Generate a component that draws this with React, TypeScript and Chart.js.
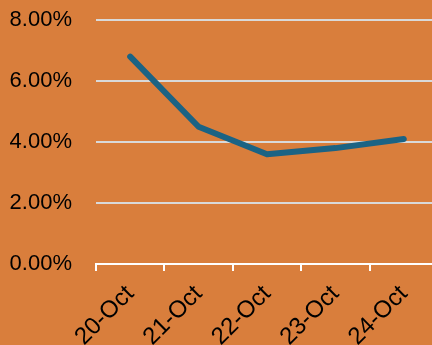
import React, { useEffect, useRef } from "react";
import { Chart, registerables } from "chart.js";

Chart.register(...registerables);

const categories = ["20-Oct", "21-Oct", "22-Oct", "23-Oct", "24-Oct"];
const seriesValues = [6.8, 4.5, 3.6, 3.8, 4.1];
const yTickValues = [0, 2, 4, 6, 8];

const BG = "#D97E3C";

export default function App() {
  const ref = useRef<HTMLCanvasElement | null>(null);

  useEffect(() => {
    document.body.style.margin = "0";
    document.body.style.overflow = "hidden";
    document.body.style.background = BG;
    const canvas = ref.current!;
    const chart = new Chart(canvas, {
      type: "line",
      data: {
        labels: categories,
        datasets: [
          {
            data: seriesValues,
            borderColor: "#1B6384",
            borderWidth: 6,
            pointRadius: 0,
            borderCapStyle: "round",
            borderJoinStyle: "round",
            tension: 0,
            fill: false,
          },
        ],
      },
      options: {
        animation: false,
        responsive: false,
        maintainAspectRatio: false,
        layout: { padding: { top: 20, right: 2, left: 0, bottom: 0 } },
        plugins: { legend: { display: false }, tooltip: { enabled: false } },
        scales: {
          x: {
            offset: true,
            grid: {
              offset: true,
              drawOnChartArea: false,
              drawTicks: true,
              tickLength: 7,
              color: "#FFFFFF",
              lineWidth: 2,
            },
            border: { display: true, color: "#FFFFFF", width: 2 },
            ticks: {
              autoSkip: false,
              maxRotation: 45,
              minRotation: 45,
              color: "#000000",
              padding: 9,
              font: { family: "'Liberation Sans', Arial, sans-serif", size: 24 },
            },
            afterFit: (s: any) => {
              s.height = 81;
              s.paddingLeft = 0;
              s.paddingRight = 0;
              s.paddingTop = 0;
              s.paddingBottom = 0;
            },
          },
          y: {
            min: 0,
            max: 8,
            afterBuildTicks: (s: any) => {
              s.ticks = yTickValues.map((v) => ({ value: v }));
            },
            grid: {
              color: "#D9D9D9",
              lineWidth: 2,
              drawTicks: false,
            },
            border: { display: false },
            ticks: {
              color: "#000000",
              padding: 24,
              font: { family: "'Liberation Sans', Arial, sans-serif", size: 22 },
              callback: (v: any) => Number(v).toFixed(2) + "%",
            },
            afterFit: (s: any) => {
              s.width = 96;
              s.paddingTop = 0;
              s.paddingBottom = 0;
              s.paddingLeft = 0;
              s.paddingRight = 0;
            },
          },
        },
      },
    });
    return () => chart.destroy();
  }, []);

  return (
    <div style={{ position: "absolute", left: 0, top: 0, width: 432, height: 345, overflow: "hidden", background: BG }}>
      <canvas ref={ref} width={440} height={345} style={{ display: "block", width: 440, height: 345 }} />
    </div>
  );
}
